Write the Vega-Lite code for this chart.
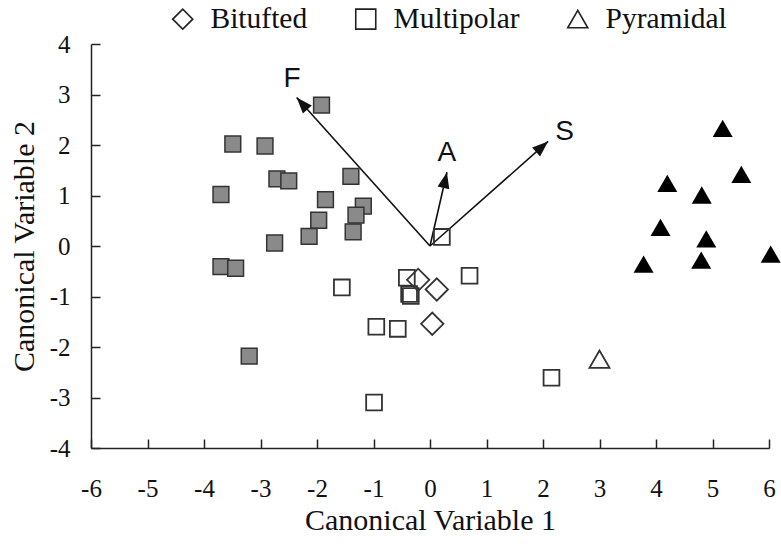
{
  "$schema": "https://vega.github.io/schema/vega-lite/v6.json",
  "width": 678,
  "height": 404,
  "autosize": {"type": "none"},
  "padding": {"left": 91, "top": 44, "right": 12, "bottom": 103},
  "background": "white",
  "config": {
    "view": {"stroke": null},
    "font": "Liberation Serif",
    "axis": {
      "grid": false,
      "domainColor": "#222",
      "domainWidth": 1.5,
      "tickColor": "#222",
      "tickWidth": 1.5,
      "tickSize": -9,
      "labelFont": "Liberation Serif",
      "labelFontSize": 25,
      "labelColor": "#111",
      "labelFlush": false,
      "labelExpr": "'' + datum.value",
      "titleFont": "Liberation Serif",
      "titleFontSize": 30,
      "titleFontWeight": "normal",
      "titleColor": "#111"
    },
    "legend": {
      "orient": "none",
      "legendX": 77,
      "legendY": -40,
      "direction": "horizontal",
      "padding": 0,
      "labelFont": "Liberation Serif",
      "labelFontSize": 29.5,
      "labelColor": "#111",
      "labelOffset": 13,
      "columnPadding": 43,
      "symbolSize": 400,
      "symbolStrokeColor": "#222",
      "symbolStrokeWidth": 1.6
    }
  },
  "datasets": {
    "gray": [
      {"x": -1.92, "y": 2.79}, {"x": -3.49, "y": 2.02}, {"x": -2.92, "y": 1.98},
      {"x": -2.71, "y": 1.33}, {"x": -2.50, "y": 1.29}, {"x": -1.40, "y": 1.38},
      {"x": -3.70, "y": 1.02}, {"x": -1.85, "y": 0.92}, {"x": -1.18, "y": 0.79},
      {"x": -1.31, "y": 0.61}, {"x": -1.97, "y": 0.51}, {"x": -2.14, "y": 0.19},
      {"x": -1.36, "y": 0.28}, {"x": -2.75, "y": 0.06}, {"x": -3.70, "y": -0.41},
      {"x": -3.44, "y": -0.44}, {"x": -3.20, "y": -2.18}
    ],
    "black": [
      {"x": 5.18, "y": 2.33}, {"x": 5.51, "y": 1.42}, {"x": 4.20, "y": 1.24},
      {"x": 4.81, "y": 1.01}, {"x": 4.08, "y": 0.37}, {"x": 4.89, "y": 0.14},
      {"x": 3.78, "y": -0.36}, {"x": 4.80, "y": -0.28}, {"x": 6.03, "y": -0.16}
    ],
    "open": [
      {"x": 0.21, "y": 0.18, "type": "Multipolar"},
      {"x": -1.56, "y": -0.82, "type": "Multipolar"},
      {"x": -0.41, "y": -0.63, "type": "Multipolar"},
      {"x": -0.37, "y": -0.95, "type": "Multipolar"},
      {"x": -0.34, "y": -0.99, "type": "Multipolar"},
      {"x": 0.70, "y": -0.59, "type": "Multipolar"},
      {"x": -0.95, "y": -1.60, "type": "Multipolar"},
      {"x": -0.57, "y": -1.64, "type": "Multipolar"},
      {"x": -0.99, "y": -3.10, "type": "Multipolar"},
      {"x": 2.15, "y": -2.61, "type": "Multipolar"},
      {"x": -0.21, "y": -0.67, "type": "Bitufted"},
      {"x": 0.12, "y": -0.86, "type": "Bitufted"},
      {"x": 0.04, "y": -1.54, "type": "Bitufted"},
      {"x": 3.00, "y": -2.24, "type": "Pyramidal"}
    ],
    "arrows": [
      {"var": "F", "x0": 0, "y0": 0, "x": -2.36, "y": 2.94, "lx": -2.44, "ly": 3.30},
      {"var": "A", "x0": 0, "y0": 0, "x": 0.30, "y": 1.46, "lx": 0.30, "ly": 1.84},
      {"var": "S", "x0": 0, "y0": 0, "x": 2.09, "y": 2.07, "lx": 2.38, "ly": 2.26}
    ]
  },
  "encoding": {
    "x": {"field": "x", "type": "quantitative",
      "scale": {"domain": [-6, 6], "nice": false, "zero": false},
      "axis": {"values": [-6,-5,-4,-3,-2,-1,0,1,2,3,4,5,6], "labelPadding": 37, "title": "Canonical Variable 1", "titlePadding": 4}},
    "y": {"field": "y", "type": "quantitative",
      "scale": {"domain": [-4, 4], "nice": false, "zero": false},
      "axis": {"values": [-4,-3,-2,-1,0,1,2,3,4], "labelPadding": 30, "title": "Canonical Variable 2", "titlePadding": 10}}
  },
  "layer": [
    {
      "data": {"name": "arrows"},
      "mark": {"type": "rule", "color": "#111", "strokeWidth": 1.6},
      "encoding": {
        "x": {"field": "x0", "type": "quantitative"},
        "y": {"field": "y0", "type": "quantitative"},
        "x2": {"field": "x"},
        "y2": {"field": "y"}
      }
    },
    {
      "data": {"name": "arrows"},
      "transform": [{"filter": "datum.var === 'F'"}],
      "mark": {"type": "point", "shape": "M0,0L-1.5,4L1.5,4Z", "size": 64, "filled": true, "color": "#111", "opacity": 1, "angle": -41.9}
    },
    {
      "data": {"name": "arrows"},
      "transform": [{"filter": "datum.var === 'A'"}],
      "mark": {"type": "point", "shape": "M0,0L-1.5,4L1.5,4Z", "size": 64, "filled": true, "color": "#111", "opacity": 1, "angle": 12.8}
    },
    {
      "data": {"name": "arrows"},
      "transform": [{"filter": "datum.var === 'S'"}],
      "mark": {"type": "point", "shape": "M0,0L-1.5,4L1.5,4Z", "size": 64, "filled": true, "color": "#111", "opacity": 1, "angle": 48.5}
    },
    {
      "data": {"name": "arrows"},
      "mark": {"type": "text", "font": "Liberation Sans", "fontSize": 28, "color": "#111", "align": "center", "baseline": "middle"},
      "encoding": {
        "x": {"field": "lx", "type": "quantitative"},
        "y": {"field": "ly", "type": "quantitative"},
        "text": {"field": "var"}
      }
    },
    {
      "data": {"name": "gray"},
      "mark": {"type": "point", "shape": "square", "size": 250, "filled": true, "fill": "#8a8a8a", "stroke": "#333", "strokeWidth": 1.5, "opacity": 1}
    },
    {
      "data": {"name": "black"},
      "mark": {"type": "point", "shape": "triangle-up", "size": 400, "filled": true, "color": "#000", "opacity": 1}
    },
    {
      "data": {"name": "open"},
      "transform": [{"filter": "datum.type === 'Multipolar'"}],
      "mark": {"type": "point", "size": 250, "filled": false, "stroke": "#333", "strokeWidth": 1.8, "opacity": 1},
      "encoding": {
        "shape": {"field": "type", "type": "nominal",
          "scale": {"domain": ["Bitufted", "Multipolar", "Pyramidal"], "range": ["diamond", "square", "triangle-up"]},
          "legend": {"title": null}}
      }
    },
    {
      "data": {"name": "open"},
      "transform": [{"filter": "datum.type === 'Bitufted'"}],
      "mark": {"type": "point", "size": 500, "filled": false, "stroke": "#333", "strokeWidth": 1.8, "opacity": 1},
      "encoding": {
        "shape": {"field": "type", "type": "nominal"}
      }
    },
    {
      "data": {"name": "open"},
      "transform": [{"filter": "datum.type === 'Pyramidal'"}],
      "mark": {"type": "point", "size": 400, "filled": false, "stroke": "#333", "strokeWidth": 1.8, "opacity": 1},
      "encoding": {
        "shape": {"field": "type", "type": "nominal"}
      }
    }
  ]
}
